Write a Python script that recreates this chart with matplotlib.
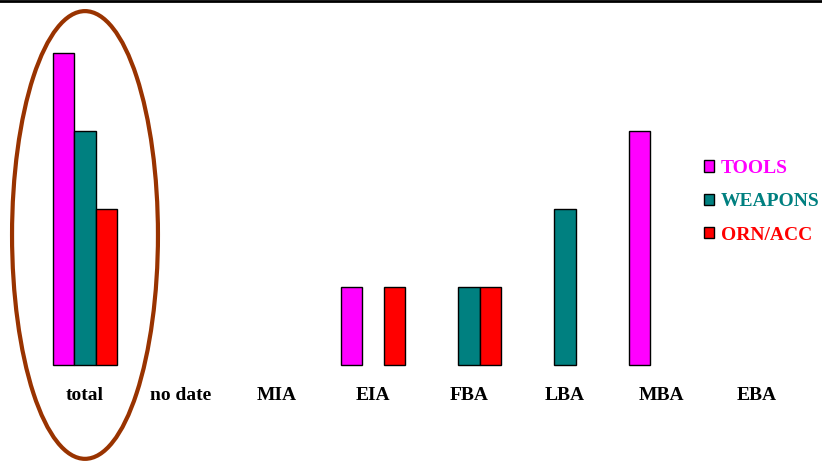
import numpy as np
import matplotlib.pyplot as plt
from matplotlib.patches import Ellipse, Patch

# Data
categories = ['total', 'no date', 'MIA', 'EIA', 'FBA', 'LBA', 'MBA', 'EBA']
tools = [4, 0, 0, 1, 0, 0, 3, 0]
weapons = [3, 0, 0, 0, 1, 2, 0, 0]
orn_acc = [2, 0, 0, 1, 1, 0, 0, 0]
series_names = ['TOOLS', 'WEAPONS', 'ORN/ACC']
colors = ['#ff00ff', '#008080', '#ff0000']

plt.rcParams['font.family'] = ['Liberation Serif', 'DejaVu Serif']

fig = plt.figure(figsize=(8.22, 4.61), dpi=100)
ax = fig.add_axes([0, 0, 1, 1])

# pixel mapping: category i at x=85+96*i px, baseline at y=365 px, 78 px per unit
ax.set_xlim(-85 / 96, (822 - 85) / 96)
ax.set_ylim(-(461 - 365) / 78, 365 / 78)
ax.axis('off')

x = np.arange(len(categories))
w = 0.225
for k, (vals, col) in enumerate(zip([tools, weapons, orn_acc], colors)):
    v = np.array(vals)
    m = v > 0
    ax.bar(x[m] + (k - 1) * w, v[m], width=w, color=col, edgecolor='black', linewidth=1)

for i, c in enumerate(categories):
    ax.text(x[i], -0.385, c, ha='center', va='center', fontsize=14, fontweight='bold')

# highlight ellipse around total
ax.add_patch(Ellipse((0, 1.667), 1.52, 5.74, fill=False, edgecolor='#993300', linewidth=3))

# top rule
ax.axhline(365 / 78 - 0.012, color='black', linewidth=2)

handles = [Patch(facecolor=c, edgecolor='black', linewidth=1) for c in colors]
ax.legend(handles, series_names, loc='upper left', bbox_to_anchor=(704 / 822, 1 - 160 / 461),
          frameon=False, labelcolor=colors, handlelength=0.52, handleheight=0.52,
          handletextpad=0.35, labelspacing=0.84, borderpad=0, borderaxespad=0,
          prop={'family': 'Liberation Serif', 'weight': 'bold', 'size': 14})

fig.savefig('out.png', dpi=100)
